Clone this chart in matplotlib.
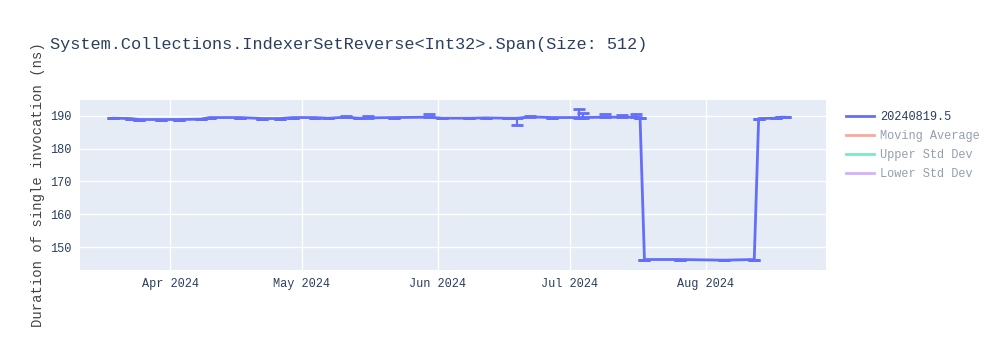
import numpy as np
import pandas as pd
import matplotlib
matplotlib.use("Agg")
import matplotlib.pyplot as plt
import matplotlib.dates as mdates
from matplotlib.lines import Line2D

# ---- Data ----
dates = pd.to_datetime([
    "2024-03-19", "2024-03-23", "2024-03-25", "2024-03-30", "2024-04-03",
    "2024-04-08", "2024-04-10", "2024-04-17", "2024-04-22", "2024-04-26",
    "2024-04-29", "2024-05-04", "2024-05-07", "2024-05-11", "2024-05-14",
    "2024-05-16", "2024-05-22", "2024-05-30", "2024-06-02", "2024-06-08",
    "2024-06-12", "2024-06-17", "2024-06-19", "2024-06-22", "2024-06-27",
    "2024-07-03", "2024-07-04", "2024-07-09", "2024-07-13", "2024-07-16",
    "2024-07-17", "2024-07-18", "2024-07-26", "2024-08-05", "2024-08-12",
    "2024-08-13", "2024-08-17", "2024-08-18", "2024-08-19",
])
values = [
    189.3, 189.2, 188.9, 188.9, 188.9,
    189.0, 189.5, 189.5, 189.2, 189.2,
    189.5, 189.5, 189.3, 189.6, 189.3,
    189.4, 189.5, 189.6, 189.3, 189.3,
    189.4, 189.3, 189.3, 189.7, 189.5,
    189.5, 189.5, 189.6, 189.6, 189.6,
    189.4, 146.2, 146.2, 146.0, 146.2,
    189.2, 189.3, 189.6, 189.6,
]
err_minus = [
    0, 0, 0, 0, 0,
    0, 0, 0, 0, 0,
    0, 0, 0, 0, 0,
    0, 0, 0, 0, 0,
    0, 0, 2.2, 0, 0,
    0, 0, 0, 0, 0,
    0, 0, 0, 0, 0,
    0, 0, 0, 0,
]
err_plus = [
    0, 0, 0, 0, 0,
    0, 0, 0, 0, 0,
    0, 0, 0, 0.5, 0,
    0.6, 0, 1.0, 0, 0,
    0, 0, 0, 0.3, 0,
    2.6, 1.5, 1.0, 0.8, 1.0,
    0, 0, 0, 0, 0,
    0, 0, 0, 0,
]

series_name = "20240819.5"
hidden_names = ["Moving Average", "Upper Std Dev", "Lower Std Dev"]
hidden_colors = ["#EF553B", "#00CC96", "#AB63FA"]
title = "System.Collections.IndexerSetReverse<Int32>.Span(Size: 512)"
ylabel = "Duration of single invocation (ns)"
yticks = [150, 160, 170, 180, 190]
xticks = pd.to_datetime(["2024-04-01", "2024-05-01", "2024-06-01", "2024-07-01", "2024-08-01"])

# ---- Style ----
FONT = ["Liberation Mono", "DejaVu Sans Mono"]
BG = "#E5ECF6"
TXT = "#2a3f5f"
BLUE = "#636EFA"
plt.rcParams["font.family"] = FONT

fig = plt.figure(figsize=(10, 3.5), dpi=100)
ax = fig.add_axes([0.08, 1 - 270 / 350, 0.746, 170 / 350])
ax.set_facecolor(BG)
for s in ax.spines.values():
    s.set_visible(False)

ax.errorbar(dates, values, yerr=[err_minus, err_plus], color=BLUE, lw=2,
            ecolor=BLUE, elinewidth=1.5, capsize=4.5, capthick=2,
            label=series_name, zorder=3)

ax.set_xlim(pd.Timestamp("2024-03-11 12:00"), pd.Timestamp("2024-08-28 08:00"))
ax.set_ylim(143.0, 194.85)
ax.set_yticks(yticks)
ax.set_xticks(xticks)
ax.xaxis.set_major_formatter(mdates.DateFormatter("%b %Y"))
ax.grid(color="white", lw=1, zorder=0)
ax.set_axisbelow(True)
ax.tick_params(length=0, labelsize=8.6, colors=TXT, pad=6)
ax.set_ylabel(ylabel, fontsize=10, color="#444444", labelpad=4)

fig.text(0.05, 1 - 45 / 350, title, fontsize=12.2, color=TXT, va="center", ha="left")

# legend: visible series + legend-only (hidden) traces
handles = [Line2D([], [], color=BLUE, lw=2)]
handles += [Line2D([], [], color=c, lw=2, alpha=0.5) for c in hidden_colors]
leg = ax.legend(handles, [series_name] + hidden_names, loc="upper left",
                bbox_to_anchor=(1.015, 0.985), frameon=False, fontsize=8.6,
                handlelength=2.4, handletextpad=0.5, labelspacing=0.6,
                borderaxespad=0.3)
for i, t in enumerate(leg.get_texts()):
    t.set_color(TXT)
    if i > 0:
        t.set_alpha(0.5)

fig.savefig("out.png", dpi=100, facecolor="white")
